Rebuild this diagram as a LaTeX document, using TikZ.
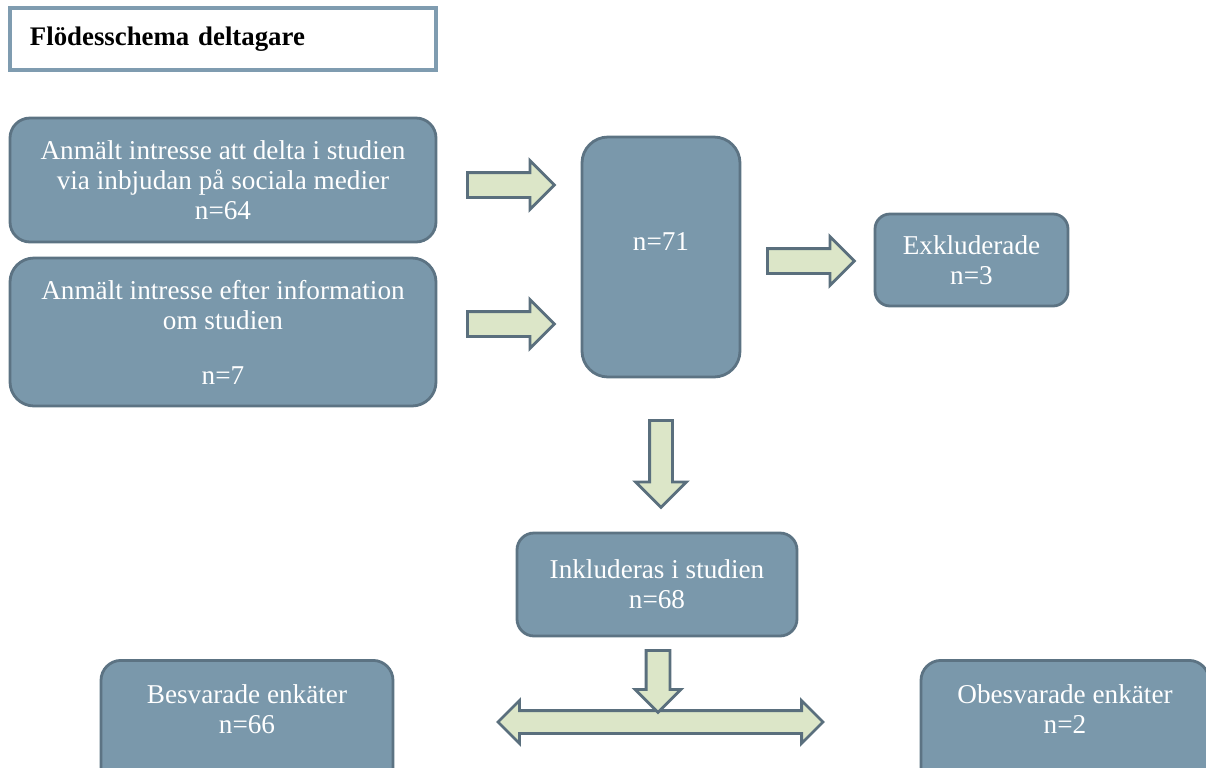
\documentclass[tikz,border=0pt]{standalone}
\usepackage{fontspec}
\setmainfont{Liberation Serif}
\usetikzlibrary{shapes.arrows,calc,positioning}

\definecolor{boxfill}{HTML}{7A98AB}
\definecolor{boxline}{HTML}{5C7383}
\definecolor{pilfill}{HTML}{DCE6C8}
\definecolor{pilline}{HTML}{5A6F7D}
\definecolor{titelline}{HTML}{7F9CB0}

\begin{document}
\begin{tikzpicture}[x=0.5pt, y=-0.5pt, every node/.style={align=center}]
\tikzset{
  ruta/.style={draw=boxline, fill=boxfill, line width=1.4pt, rounded corners=10pt, text=white, font=\fontsize{13.6}{15}\selectfont, inner sep=0pt},
  titel/.style={draw=titelline, fill=white, line width=2pt, font=\fontsize{13.4}{15}\selectfont\bfseries, align=left, text width=193pt, inner xsep=10pt, minimum width=213pt, minimum height=31pt},
  pil/.style={single arrow, draw=pilline, fill=pilfill, line width=1.4pt, inner sep=5.5pt, single arrow head extend=6pt, minimum height=43.5pt, anchor=tail},
  dubbelpil/.style={double arrow, draw=pilline, fill=pilfill, line width=1.4pt, inner sep=5pt, double arrow head extend=5pt, minimum height=162.5pt}
}
\useasboundingbox (0,0) rectangle (1206,767);
\clip (0,0) rectangle (1206,767);

\node[titel] (titel) at (223,39) {Flödesschema deltagare};
\node[ruta, minimum width=213pt, minimum height=62pt] (social) at (223,180) {Anmält intresse att delta i studien\\via inbjudan på sociala medier\\n=64};
\node[ruta, minimum width=213pt, minimum height=74pt, rounded corners=12pt] (info) at (223,332) {Anmält intresse efter information\\om studien\\[12.5pt]n=7};
\node[ruta, minimum width=79pt, minimum height=120pt, rounded corners=13pt, text depth=15pt] (totalt) at (661,257) {n=71};
\node[ruta, minimum width=96.5pt, minimum height=46pt, rounded corners=7.5pt] (exkl) at (971.5,260) {Exkluderade\\n=3};
\node[ruta, minimum width=140pt, minimum height=51.5pt, rounded corners=8.5pt] (inkl) at (657,584.5) {Inkluderas i studien\\n=68};
\node[ruta, anchor=north, minimum width=146pt, inner ysep=12pt, text depth=60pt] (besv) at (247,659) {Besvarade enkäter\\n=66};
\node[ruta, anchor=north, minimum width=144pt, inner ysep=12pt, text depth=60pt] (obesv) at (1065,659) {Obesvarade enkäter\\n=2};

% pilar mellan rutorna
\node[pil] (pil1) at (466,185) {};
\node[pil] (pil2) at (466,324) {};
\node[pil] (pil3) at (766,261) {};
\node[pil, shape border rotate=270, inner sep=5pt, single arrow head extend=7pt] (pil4) at (661,419) {};
\node[dubbelpil] (delning) at (660.5,722) {};
\node[pil, shape border rotate=270, inner sep=5.25pt, minimum height=31pt, single arrow head extend=5.5pt] (pil5) at (658,649) {};
\end{tikzpicture}
\end{document}
